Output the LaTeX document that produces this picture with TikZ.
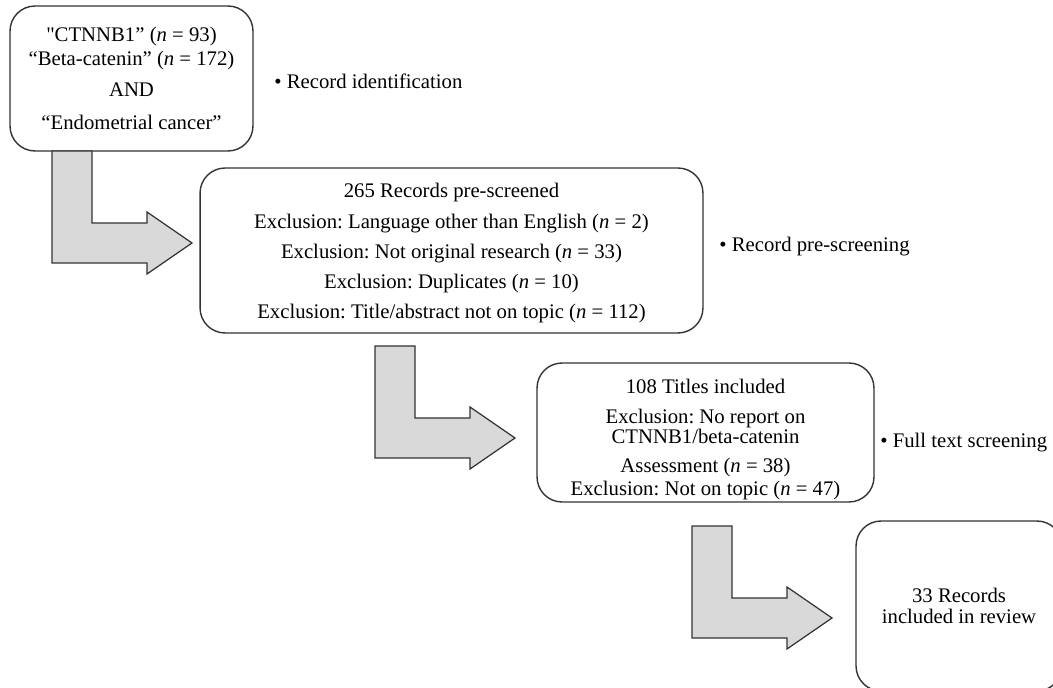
\documentclass[tikz,border=0pt]{standalone}
\usepackage{fontspec}
\setmainfont{Liberation Serif}
\newfontfamily\quotefont{Liberation Serif}
\frenchspacing
\tikzset{
  stagebox/.style={draw=black!80, line width=0.8pt, rounded corners=0.5cm, align=center, inner sep=0pt},
  blockarrow/.style={draw=black!80, line width=0.7pt, fill=black!15},
  steplabel/.style={anchor=west, inner sep=0pt}
}
\def\bentarrow(#1,#2){\draw[blockarrow, shift={(#1,#2)}] (0,0) -- (40,0) -- (40,72) -- (95,72) -- (95,61) -- (140,92) -- (95,123) -- (95,112) -- (0,112) -- cycle;}

\begin{document}
\begin{tikzpicture}[x=0.02cm, y=-0.02cm, font=\fontsize{11.8}{11.5}\selectfont]
			%%%%% START %%%%%
			\useasboundingbox (0,0) rectangle (1053,688);
			\clip (0,0) rectangle (1053,688);
			
			\node[stagebox, minimum width=4.86cm, minimum height=2.9cm] (ident) at (131.5,78.5)
			  {{\quotefont"}CTNNB1” (\textit{n} = 93)\\[2.3pt] “Beta-catenin” (\textit{n} = 172)\\[5.7pt] AND\\[7.4pt] “Endometrial cancer”};
			\node[steplabel] (identlbl) at (274,81) {• Record identification};
			
			\bentarrow(52,151)
			
			\node[stagebox, minimum width=10.06cm, minimum height=3.3cm] (prescreen) at (451.5,250.5)
			  {\rule{0pt}{11.4pt}265 Records pre-screened\\[5.7pt]
			   Exclusion: Language other than English (\textit{n} = 2)\\[5.7pt]
			   Exclusion: Not original research (\textit{n} = 33)\\[5.7pt]
			   Exclusion: Duplicates (\textit{n} = 10)\\[5.7pt]
			   Exclusion: Title/abstract not on topic (\textit{n} = 112)};
			\node[steplabel] (prescreenlbl) at (719,247) {• Record pre-screening};
			
			\bentarrow(375,346)
			
			\node[stagebox, minimum width=6.74cm, minimum height=2.78cm] (fulltext) at (705.5,432.5)
			  {\rule{0pt}{16pt}108 Titles included\\[5.7pt]
			   Exclusion: No report on\\
			   CTNNB1/beta-catenin\\[4.5pt]
			   Assessment (\textit{n} = 38)\\[1.7pt]
			   Exclusion: Not on topic (\textit{n} = 47)};
			\node[steplabel] (fulltextlbl) at (880,443) {• Full text screening};
			
			\bentarrow(692,526)
			
			\node[stagebox, minimum width=4.12cm, minimum height=3.4cm] (review) at (959,606)
			  {33 Records\\ included in review};
			%%%%% END %%%%%
\end{tikzpicture}
\end{document}
